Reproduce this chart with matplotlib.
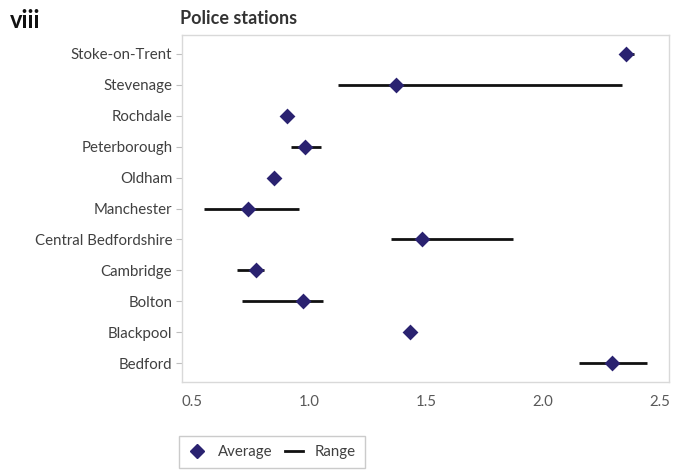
import matplotlib.pyplot as plt
from matplotlib.lines import Line2D

plt.rcParams['font.family'] = ['Lato', 'DejaVu Sans']

places = ["Stoke-on-Trent", "Stevenage", "Rochdale", "Peterborough", "Oldham",
          "Manchester", "Central Bedfordshire", "Cambridge", "Bolton",
          "Blackpool", "Bedford"]
average = [2.355, 1.372, 0.907, 0.984, 0.852, 0.738, 1.484, 0.772, 0.973, 1.432, 2.298]
range_low = [2.33, 1.124, 0.90, 0.922, 0.845, 0.553, 1.353, 0.694, 0.712, 1.42, 2.155]
range_high = [2.39, 2.338, 0.915, 1.050, 0.86, 0.959, 1.873, 0.809, 1.061, 1.44, 2.446]
x_ticks = [0.5, 1.0, 1.5, 2.0, 2.5]

navy = "#2a2270"
frame = "#d9d9d9"

fig = plt.figure(figsize=(6.84, 4.72), dpi=100)
ax = fig.add_axes([182 / 684, 1 - 382 / 472, (669 - 182) / 684, (382 - 35) / 472])

ypos = list(range(len(places)))[::-1]
ax.hlines(ypos, range_low, range_high, color="#111111", lw=2, zorder=2)
ax.scatter(average, ypos, marker="D", s=65, color=navy, zorder=3, linewidths=0)

ax.set_xlim(0.457, 2.54)
ax.set_ylim(-0.6, len(places) - 0.4)
ax.set_yticks(ypos)
ax.set_yticklabels(places)
ax.set_xticks(x_ticks)
ax.set_xticklabels([f"{v:.1f}" for v in x_ticks])

for s in ax.spines.values():
    s.set_color(frame)
    s.set_linewidth(1)
ax.tick_params(axis="y", length=4, color="#bfbfbf", labelsize=10.8, labelcolor="#404040", pad=3)
ax.tick_params(axis="x", length=0, labelsize=10.8, labelcolor="#595959", pad=9)

fig.text(10 / 684, 1 - 20 / 472, "viii", fontsize=17, fontweight="bold", color="#111111", va="center")
fig.text(180 / 684, 1 - 18 / 472, "Police stations", fontsize=13, fontweight="bold",
         color="#333333", va="center")

handles = [
    Line2D([], [], marker="D", color=navy, ls="none", markersize=7.5),
    Line2D([], [], color="#111111", lw=2),
]
leg = fig.legend(handles, ["Average", "Range"], ncol=2, loc="center",
                 bbox_to_anchor=(272 / 684, 1 - 452 / 472), frameon=True,
                 fancybox=False, fontsize=10.8, handlelength=1.2, columnspacing=0.8,
                 handletextpad=0.8, borderpad=0.6)
leg.get_frame().set_edgecolor("#bfbfbf")
leg.get_frame().set_linewidth(1)
for t in leg.get_texts():
    t.set_color("#404040")

fig.savefig("out.png", dpi=100)
